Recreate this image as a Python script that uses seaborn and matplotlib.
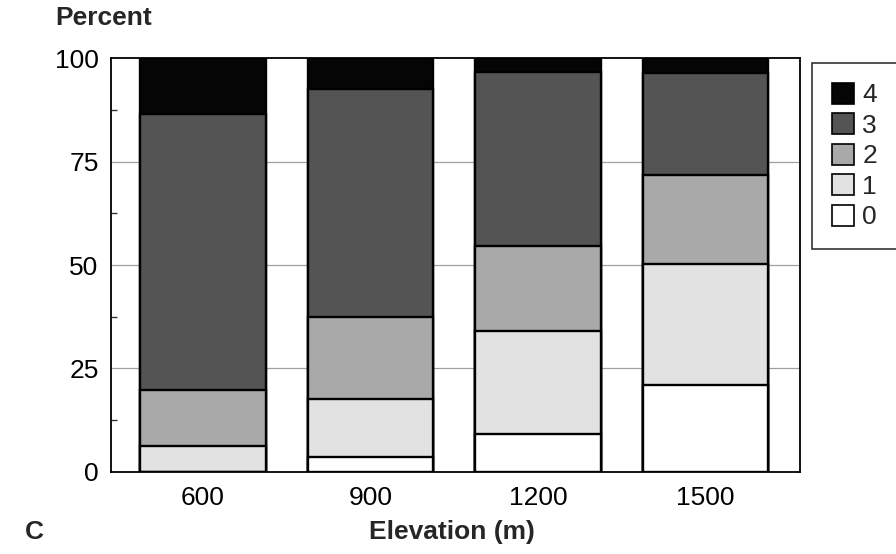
import matplotlib
matplotlib.use("Agg")
import matplotlib.pyplot as plt
import seaborn as sns
import numpy as np
import pandas as pd
from matplotlib.patches import Patch

# ---- data (percent of plots in each class, per elevation) ----
elevations = ["600", "900", "1200", "1500"]
class_levels = ["0", "1", "2", "3", "4"]
class0 = [0.0, 3.6, 9.1, 21.0]
class1 = [6.2, 14.0, 24.9, 29.3]
class2 = [13.6, 19.9, 20.6, 21.5]
class3 = [66.7, 55.0, 42.2, 24.6]
class4 = [13.5, 7.5, 3.2, 3.6]
y_ticks = [0, 25, 50, 75, 100]
colors = {"0": "#ffffff", "1": "#e2e2e2", "2": "#a9a9a9", "3": "#545454", "4": "#050505"}

series = [class0, class1, class2, class3, class4]
cum = np.cumsum(np.array(series), axis=0)

sns.set_theme(style="white")
plt.rcParams["font.family"] = ["Liberation Sans", "DejaVu Sans"]

fig = plt.figure(figsize=(8.96, 5.54), dpi=100)
ax = fig.add_axes([111 / 896, 1 - 471.7 / 554, (800 - 111) / 896, (471.7 - 58.3) / 554])

# grid lines behind bars
for yv in y_ticks[1:-1]:
    ax.axhline(yv, color="#a0a0a0", lw=0.9, zorder=0)

# draw cumulative bars from top class downwards
for i in range(len(class_levels) - 1, -1, -1):
    df = pd.DataFrame({"elev": elevations, "val": cum[i]})
    sns.barplot(data=df, x="elev", y="val", order=elevations, color=colors[class_levels[i]],
                width=0.75, edgecolor="black", linewidth=1.7, saturation=1, ax=ax, zorder=2)

ax.set_xlim(-0.548, 3.564)
ax.set_ylim(0, 100)
ax.set_yticks(y_ticks)
ax.set_yticks([12.5, 37.5, 62.5, 87.5], minor=True)
ax.set_yticklabels([str(v) for v in y_ticks], fontsize=19)
ax.set_xticks(range(len(elevations)))
ax.set_xticklabels(elevations, fontsize=19)
ax.tick_params(axis="y", which="major", direction="in", length=0, pad=9, colors="black")
ax.tick_params(axis="y", which="minor", direction="in", length=4, width=1, color="#333333", left=True)
ax.tick_params(axis="x", which="major", direction="in", length=6, width=1, pad=10, bottom=True, color="#333333")
for lbl in ax.get_xticklabels() + ax.get_yticklabels():
    lbl.set_color("black")
ax.set_xlabel("")
ax.set_ylabel("")
for s in ax.spines.values():
    s.set_visible(True)
    s.set_color("black")
    s.set_linewidth(1.3)
    s.set_zorder(3)

fig.text(55 / 896, 1 - 18 / 554, "Percent", fontsize=19, fontweight="bold", ha="left", va="center")
fig.text(452 / 896, 1 - 532 / 554, "Elevation (m)", fontsize=19, fontweight="bold", ha="center", va="center")
fig.text(25 / 896, 1 - 532 / 554, "C", fontsize=19, fontweight="bold", ha="left", va="center")

handles = [Patch(facecolor=colors[c], edgecolor="black", linewidth=1.2) for c in reversed(class_levels)]
leg = fig.legend(handles, list(reversed(class_levels)), loc="upper left",
                 bbox_to_anchor=(812 / 896, 1 - 63 / 554), fontsize=19,
                 frameon=True, fancybox=False, borderpad=0.75, labelspacing=0.22,
                 handlelength=0.85, handleheight=0.85, handletextpad=0.3, borderaxespad=0)
leg.get_frame().set_edgecolor("black")
leg.get_frame().set_linewidth(1.2)

fig.savefig("out.png", dpi=100)
